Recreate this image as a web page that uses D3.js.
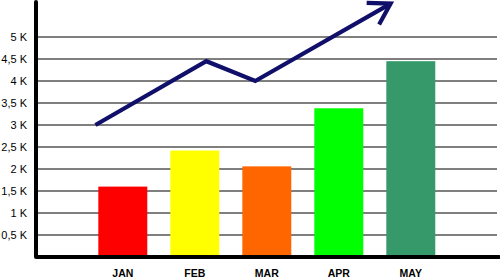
<!DOCTYPE html>
<html>
<head>
<meta charset="utf-8">
<script src="https://cdn.jsdelivr.net/npm/d3@7"></script>
<style>
  body { margin: 0; background: #fff; }
  svg { display: block; font-family: "Liberation Sans", Arial, sans-serif; }
</style>
</head>
<body>
<div id="chart"></div>
<script>
// data
var months = ["JAN", "FEB", "MAR", "APR", "MAY"];
var sales = [1600, 2420, 2060, 3380, 4450];
var barColors = ["#ff0000", "#ffff00", "#ff6600", "#00ff00", "#35996a"];

var tickValues = [500, 1000, 1500, 2000, 2500, 3000, 3500, 4000, 4500, 5000];
var tickLabels = ["0,5 K", "1 K", "1,5 K", "2 K", "2,5 K", "3 K", "3,5 K", "4 K", "4,5 K", "5 K"];

// trend arrow, x given in month positions (0 = JAN)
var trendPos = [-0.38, 1.16, 1.84, 3.72];
var trendVal = [3000, 4450, 4000, 5760];

var width = 500, height = 278;
var axisX = 36, axisY = 257;

var svg = d3.select("#chart").append("svg")
    .attr("width", width)
    .attr("height", height);

var y = d3.scaleLinear()
    .domain([0, 5000])
    .range([axisY, 37]);

var x = d3.scaleBand()
    .domain(months)
    .range([86.8, 446.8])
    .paddingInner(0.32)
    .paddingOuter(0.16);

// month position -> pixel, for the arrow
var xPos = d3.scaleLinear()
    .domain([0, 1])
    .range([x(months[0]) + x.bandwidth() / 2, x(months[1]) + x.bandwidth() / 2]);

// grid lines + y labels
var yAxis = d3.axisLeft(y)
    .tickValues(tickValues)
    .tickSize(0)
    .tickPadding(9)
    .tickFormat(function (d, i) { return tickLabels[i]; });

var gy = svg.append("g")
    .attr("transform", "translate(" + axisX + ",0)")
    .call(yAxis);
gy.select(".domain").remove();
gy.selectAll("text")
    .style("font-size", "11px")
    .attr("fill", "#000");

svg.append("g")
    .selectAll("line")
    .data(tickValues)
    .enter()
    .append("line")
    .attr("x1", axisX)
    .attr("x2", 497)
    .attr("y1", function (d) { return y(d); })
    .attr("y2", function (d) { return y(d); })
    .attr("stroke", "#555")
    .attr("stroke-width", 1.4);

// bars
svg.append("g")
    .selectAll("rect")
    .data(sales)
    .enter()
    .append("rect")
    .attr("x", function (d, i) { return x(months[i]); })
    .attr("width", x.bandwidth())
    .attr("y", function (d) { return y(d); })
    .attr("height", function (d) { return y(0) - y(d); })
    .attr("fill", function (d, i) { return barColors[i]; });

// x labels
var xAxis = d3.axisBottom(x).tickSize(0).tickPadding(13);
var gx = svg.append("g")
    .attr("transform", "translate(0," + axisY + ")")
    .call(xAxis);
gx.select(".domain").remove();
gx.selectAll("text")
    .style("font-size", "10.5px")
    .style("font-weight", "bold")
    .attr("fill", "#000");

// axis lines
svg.append("path")
    .attr("d", "M" + axisX + ",2V" + axisY + "H499")
    .attr("fill", "none")
    .attr("stroke", "#000")
    .attr("stroke-width", 4)
    .attr("stroke-linecap", "round")
    .attr("stroke-linejoin", "round");

// trend arrow
var pts = trendPos.map(function (p, i) { return [xPos(p), y(trendVal[i])]; });
var navy = "#10106a";

svg.append("path")
    .attr("d", d3.line()(pts))
    .attr("fill", "none")
    .attr("stroke", navy)
    .attr("stroke-width", 4.2)
    .attr("stroke-linejoin", "miter");

// arrow head: open chevron along the last segment
var a = pts[pts.length - 2], b = pts[pts.length - 1];
var ang = Math.atan2(a[1] - b[1], a[0] - b[0]);
var armLen = 24, spread = 0.55;
var headPts = [
    [b[0] + armLen * Math.cos(ang + spread), b[1] + armLen * Math.sin(ang + spread)],
    b,
    [b[0] + armLen * Math.cos(ang - spread), b[1] + armLen * Math.sin(ang - spread)]
];
svg.append("path")
    .attr("d", d3.line()(headPts))
    .attr("fill", "none")
    .attr("stroke", navy)
    .attr("stroke-width", 4.2)
    .attr("stroke-linejoin", "miter");
</script>
</body>
</html>
